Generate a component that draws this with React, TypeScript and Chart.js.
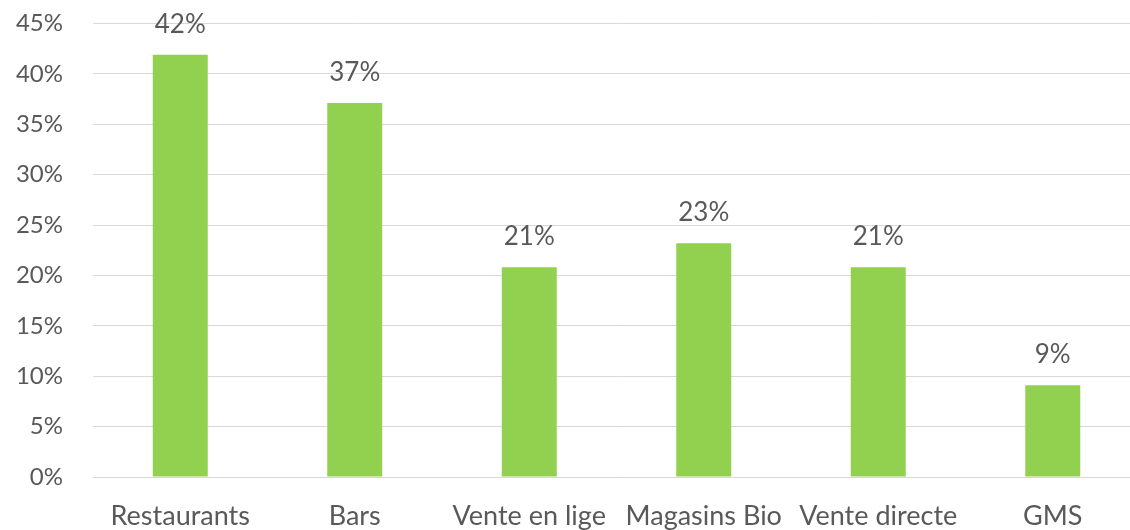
import React, { useEffect, useRef } from "react";
import { Chart, registerables } from "chart.js";

Chart.register(...registerables);

const categories = ["Restaurants", "Bars", "Vente en lige", "Magasins Bio", "Vente directe", "GMS"];
const values = [41.9, 37.1, 20.8, 23.2, 20.8, 9.1];
const valueLabels = ["42%", "37%", "21%", "23%", "21%", "9%"];

const FONT = "Lato, 'Open Sans', sans-serif";
const TEXT = "#595959";

const labelPlugin = {
  id: "valueLabels",
  afterDatasetsDraw(chart: any) {
    const ctx = chart.ctx;
    const meta = chart.getDatasetMeta(0);
    ctx.save();
    ctx.font = `26px ${FONT}`;
    ctx.fillStyle = TEXT;
    ctx.textAlign = "center";
    ctx.textBaseline = "alphabetic";
    meta.data.forEach((bar: any, i: number) => {
      ctx.fillText(valueLabels[i], bar.x, bar.y - 22);
    });
    ctx.restore();
  },
};

export default function App() {
  const ref = useRef<HTMLCanvasElement>(null);
  useEffect(() => {
    if (!ref.current) return;
    const chart = new Chart(ref.current, {
      type: "bar",
      data: {
        labels: categories,
        datasets: [
          {
            data: values,
            backgroundColor: "#92D050",
            barPercentage: 0.315,
            categoryPercentage: 1,
          },
        ],
      },
      options: {
        animation: false,
        responsive: false,
        maintainAspectRatio: false,
        layout: { padding: 0 },
        plugins: { legend: { display: false }, tooltip: { enabled: false } },
        scales: {
          x: {
            grid: { display: false },
            border: { display: false },
            ticks: { color: TEXT, font: { family: FONT, size: 27 }, padding: 15, maxRotation: 0, autoSkip: false },
            afterFit: (s: any) => { s.height = 53; },
          },
          y: {
            min: 0,
            max: 45,
            ticks: {
              stepSize: 5,
              color: TEXT,
              font: { family: FONT, size: 24 },
              padding: 30,
              callback: (v: any) => `${v}%`,
            },
            grid: { color: "#d9d9d9", lineWidth: 1, drawTicks: false },
            border: { display: false },
            afterFit: (s: any) => { s.width = 93; },
          },
        },
      },
      plugins: [labelPlugin],
    });
    return () => chart.destroy();
  }, []);
  return (
    <div style={{ position: "fixed", left: 0, top: -21, width: 1140, height: 551, background: "#fff" }}>
      <canvas ref={ref} width={1140} height={551} style={{ width: 1140, height: 551 }} />
    </div>
  );
}
